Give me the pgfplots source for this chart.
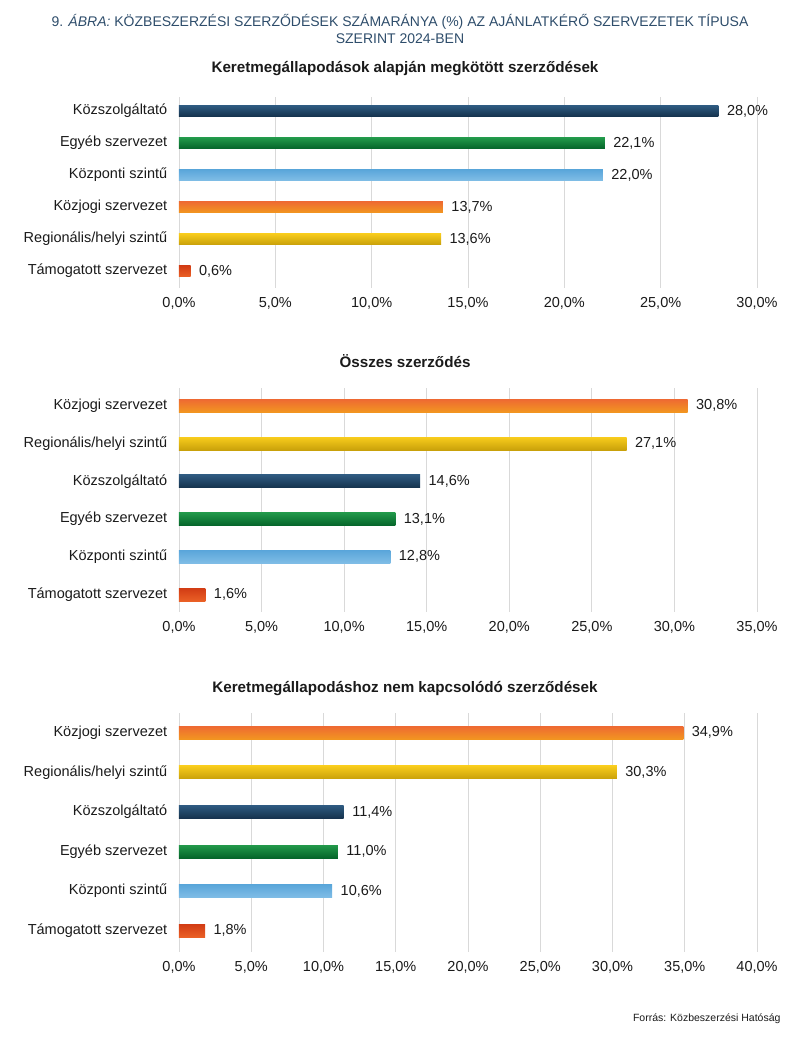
\documentclass[border=0pt]{standalone}
\usepackage{pgfplots}
\pgfplotsset{compat=1.18}
\usepackage{fontspec}
\setmainfont{Liberation Sans}

\definecolor{titleblue}{HTML}{2E4D6B}
\definecolor{gridgray}{HTML}{D9D9D9}
\definecolor{txt}{HTML}{1A1A1A}
% bar gradients (top / bottom)
\definecolor{dbT}{HTML}{2E5A80}\definecolor{dbB}{HTML}{15324D}
\definecolor{grT}{HTML}{22994A}\definecolor{grB}{HTML}{05652A}
\definecolor{lbT}{HTML}{5AA6DA}\definecolor{lbB}{HTML}{80BDE6}
\definecolor{orT}{HTML}{EE6A32}\definecolor{orB}{HTML}{F29620}
\definecolor{yeT}{HTML}{F8CC1C}\definecolor{yeB}{HTML}{C9A10A}
\definecolor{rdT}{HTML}{D23C14}\definecolor{rdB}{HTML}{EA6026}

\pgfplotsset{
  panel/.style={
    scale only axis, width=578pt,
    xbar, y dir=reverse, xmin=0,
    axis line style={draw=none}, tick style={draw=none},
    xmajorgrids, major grid style={gridgray, line width=0.9pt},
    ytick={0,...,5},
    every tick label/.append style={font=\fontsize{14.5}{17}\selectfont, text=txt},
    /pgf/number format/assume math mode=true,
    xticklabel={\pgfmathprintnumber[fixed,fixed zerofill,precision=1,use comma]{\tick}\%},
    xticklabel style={yshift=-6pt},
    yticklabel style={xshift=-4pt},
    nodes near coords={\pgfmathprintnumber[fixed,fixed zerofill,precision=1,use comma]{\pgfplotspointmeta}\%},
    point meta=x,
    every node near coord/.append style={font=\fontsize{14.5}{17}\selectfont, text=txt, xshift=5pt},
  },
  db/.style={draw=none, bar shift=0pt, top color=dbT, bottom color=dbB},
  gr/.style={draw=none, bar shift=0pt, top color=grT, bottom color=grB},
  lb/.style={draw=none, bar shift=0pt, top color=lbT, bottom color=lbB},
  or/.style={draw=none, bar shift=0pt, top color=orT, bottom color=orB},
  ye/.style={draw=none, bar shift=0pt, top color=yeT, bottom color=yeB},
  rd/.style={draw=none, bar shift=0pt, top color=rdT, bottom color=rdB},
}

\begin{document}
\begin{tikzpicture}[x=1pt,y=1pt]
\path[use as bounding box] (0,0) rectangle (800,-1039);

\node[text=titleblue, font=\fontsize{14}{17}\selectfont, align=center] at (400,-29)
  {9. \textit{ÁBRA:} KÖZBESZERZÉSI SZERZŐDÉSEK SZÁMARÁNYA (\%) AZ AJÁNLATKÉRŐ SZERVEZETEK TÍPUSA\\SZERINT 2024-BEN};

\node[font=\bfseries\fontsize{15.2}{18}\selectfont, text=txt] at (405,-69)
  {Keretmegállapodások alapján megkötött szerződések};
\begin{axis}[panel, at={(179pt,-97pt)}, anchor=north west, height=191pt,
  xmax=30, xtick={0,5,...,30}, ymin=-0.44, ymax=5.53, bar width=11pt,
  yticklabels={Közszolgáltató,Egyéb szervezet,Központi szintű,Közjogi szervezet,Regionális/helyi szintű,Támogatott szervezet}]
\addplot[db] coordinates {(28.0,0)};
\addplot[gr] coordinates {(22.1,1)};
\addplot[lb] coordinates {(22.0,2)};
\addplot[or] coordinates {(13.7,3)};
\addplot[ye] coordinates {(13.6,4)};
\addplot[rd] coordinates {(0.6,5)};
\end{axis}

\node[font=\bfseries\fontsize{15.2}{18}\selectfont, text=txt] at (405,-361)
  {Összes szerződés};
\begin{axis}[panel, at={(179pt,-388pt)}, anchor=north west, height=224pt,
  xmax=35, xtick={0,5,...,35}, ymin=-0.47, ymax=5.46, bar width=13pt,
  yticklabels={Közjogi szervezet,Regionális/helyi szintű,Közszolgáltató,Egyéb szervezet,Központi szintű,Támogatott szervezet}]
\addplot[or] coordinates {(30.8,0)};
\addplot[ye] coordinates {(27.1,1)};
\addplot[db] coordinates {(14.6,2)};
\addplot[gr] coordinates {(13.1,3)};
\addplot[lb] coordinates {(12.8,4)};
\addplot[rd] coordinates {(1.6,5)};
\end{axis}

\node[font=\bfseries\fontsize{15.2}{18}\selectfont, text=txt] at (405,-689)
  {Keretmegállapodáshoz nem kapcsolódó szerződések};
\begin{axis}[panel, at={(179pt,-713pt)}, anchor=north west, height=239pt,
  xmax=40, xtick={0,5,...,40}, ymin=-0.5, ymax=5.54, bar width=13pt,
  yticklabels={Közjogi szervezet,Regionális/helyi szintű,Közszolgáltató,Egyéb szervezet,Központi szintű,Támogatott szervezet}]
\addplot[or] coordinates {(34.9,0)};
\addplot[ye] coordinates {(30.3,1)};
\addplot[db] coordinates {(11.4,2)};
\addplot[gr] coordinates {(11.0,3)};
\addplot[lb] coordinates {(10.6,4)};
\addplot[rd] coordinates {(1.8,5)};
\end{axis}

\node[anchor=east, font=\fontsize{10.5}{12}\selectfont, text=txt] at (784,-1019)
  {Forrás: Közbeszerzési Hatóság};
\end{tikzpicture}
\end{document}
